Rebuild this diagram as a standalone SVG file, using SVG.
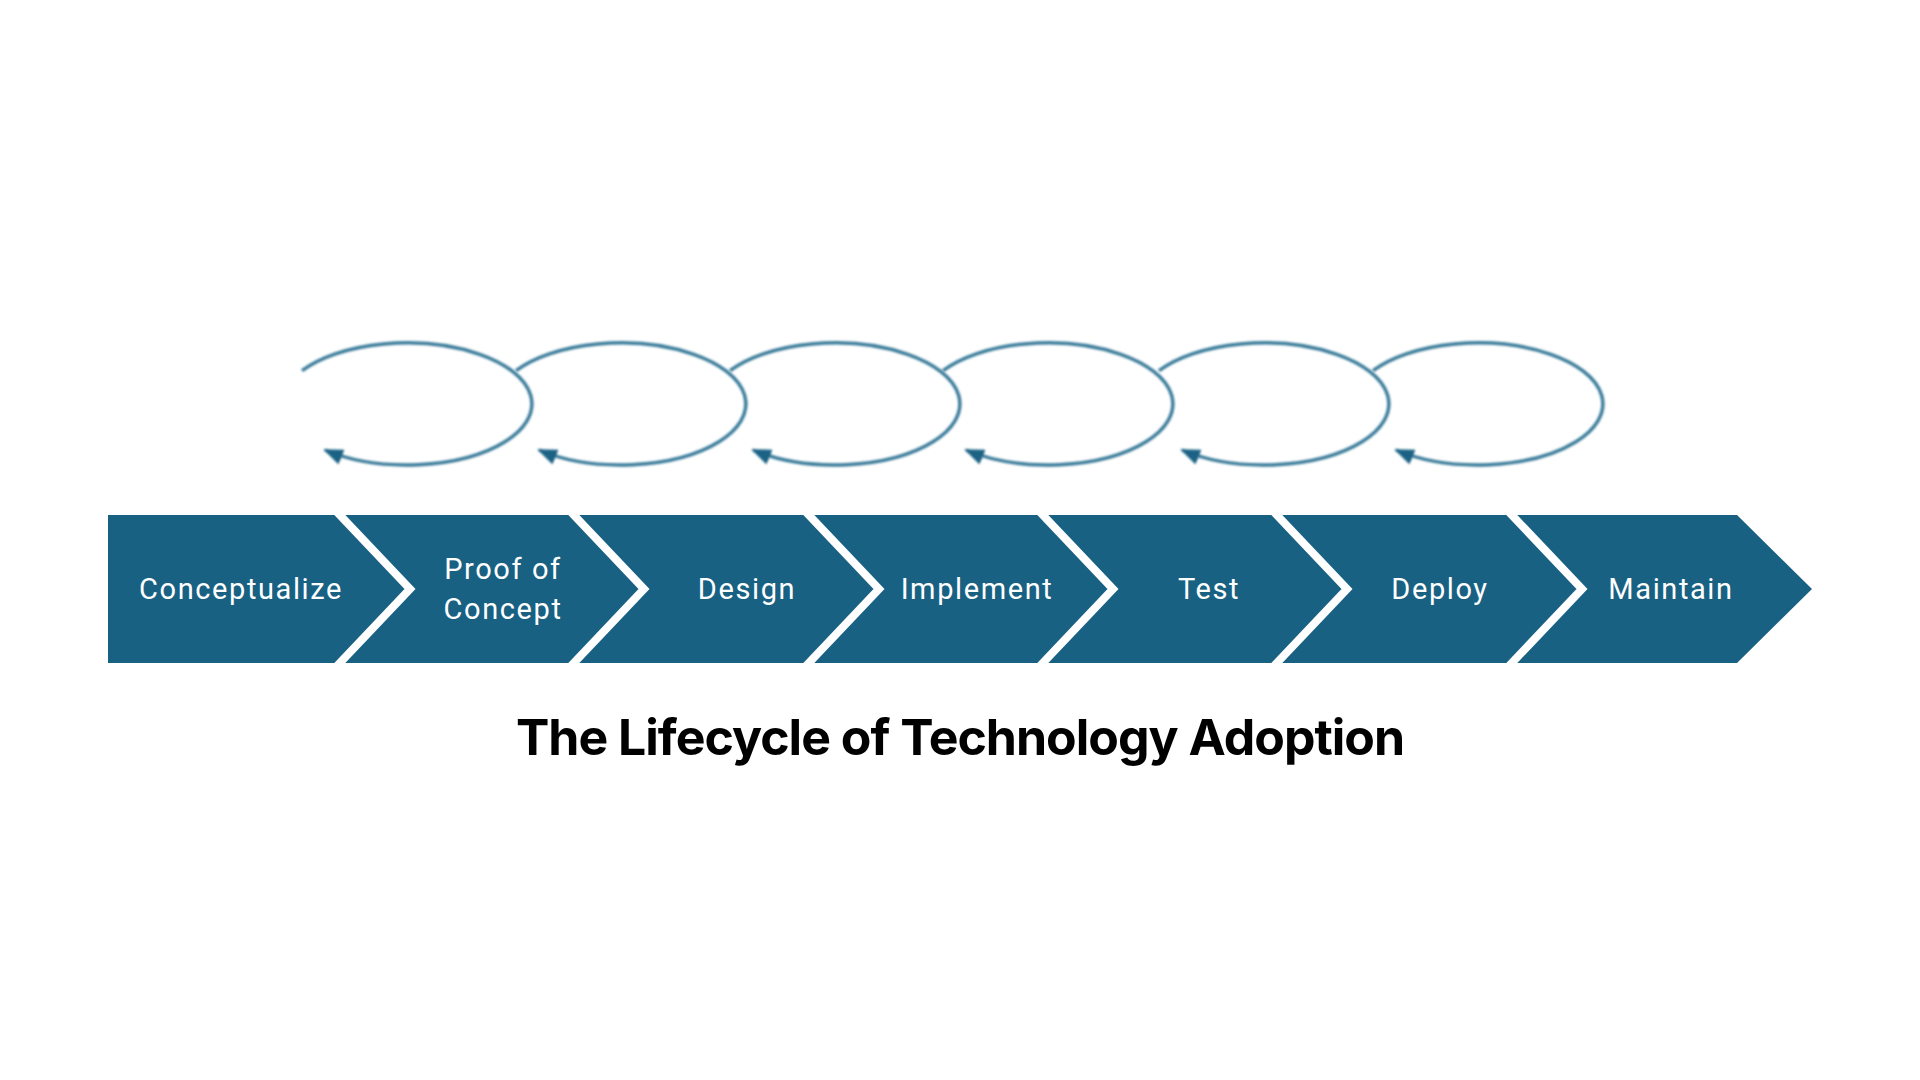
<svg xmlns="http://www.w3.org/2000/svg" width="1920" height="1080" viewBox="0 0 1920 1080">
<defs>
<style>
.chev{fill:#186183;}
.gap{fill:none;stroke:#ffffff;stroke-width:8;stroke-linejoin:miter;}
.lbl{font-family:Roboto,"Noto Sans",sans-serif;font-size:29px;fill:#ffffff;text-anchor:middle;letter-spacing:1.6px;}
.loop{fill:none;stroke:#3b7c9a;stroke-width:3.5;filter:url(#soft);}
.title{font-family:Inter,"Liberation Sans",sans-serif;font-weight:700;font-size:50px;fill:#000000;text-anchor:middle;letter-spacing:-1px;}
</style>
<filter id="soft" x="-10%" y="-20%" width="120%" height="140%"><feGaussianBlur stdDeviation="0.8"/></filter>
<marker id="arr" markerUnits="userSpaceOnUse" viewBox="0 0 20 16" refX="18" refY="8" markerWidth="20" markerHeight="16" orient="auto"><path d="M0,0 L20,8 L0,16 z" fill="#1a6284"/></marker>
</defs>
<rect width="1920" height="1080" fill="#ffffff"/>
<g id="chevrons">
<g id="n1"><polygon class="chev" points="108,515 336,515 410,589 336,663 108,663"/><text class="lbl" x="241" y="599">Conceptualize</text></g>
<g id="n2"><polygon class="chev" points="336,515 570,515 644,589 570,663 336,663 410,589"/><text class="lbl" x="503" y="579">Proof of</text><text class="lbl" x="503" y="619">Concept</text></g>
<g id="n3"><polygon class="chev" points="570,515 805,515 879,589 805,663 570,663 644,589"/><text class="lbl" x="747" y="599">Design</text></g>
<g id="n4"><polygon class="chev" points="805,515 1039,515 1113,589 1039,663 805,663 879,589"/><text class="lbl" x="977" y="599">Implement</text></g>
<g id="n5"><polygon class="chev" points="1039,515 1273,515 1347,589 1273,663 1039,663 1113,589"/><text class="lbl" x="1209" y="599">Test</text></g>
<g id="n6"><polygon class="chev" points="1273,515 1508,515 1582,589 1508,663 1273,663 1347,589"/><text class="lbl" x="1440" y="599">Deploy</text></g>
<g id="n7"><polygon class="chev" points="1508,515 1737,515 1812,589 1737,663 1508,663 1582,589"/><text class="lbl" x="1671" y="599">Maintain</text></g>
<g id="gaps">
<polyline class="gap" points="336,511 410,589 336,667"/>
<polyline class="gap" points="570,511 644,589 570,667"/>
<polyline class="gap" points="805,511 879,589 805,667"/>
<polyline class="gap" points="1039,511 1113,589 1039,667"/>
<polyline class="gap" points="1273,511 1347,589 1273,667"/>
<polyline class="gap" points="1508,511 1582,589 1508,667"/>
</g>
</g>
<g id="connectors">
<path class="loop" marker-end="url(#arr)" d="M302,370.7 A125,61 0 1 1 325,450"/>
<path class="loop" marker-end="url(#arr)" d="M516,370.7 A125,61 0 1 1 539,450"/>
<path class="loop" marker-end="url(#arr)" d="M730,370.7 A125,61 0 1 1 753,450"/>
<path class="loop" marker-end="url(#arr)" d="M943,370.7 A125,61 0 1 1 966,450"/>
<path class="loop" marker-end="url(#arr)" d="M1159,370.7 A125,61 0 1 1 1182,450"/>
<path class="loop" marker-end="url(#arr)" d="M1373,370.7 A125,61 0 1 1 1396,450"/>
</g>
<text id="title" class="title" x="960" y="755">The Lifecycle of Technology Adoption</text>
</svg>
